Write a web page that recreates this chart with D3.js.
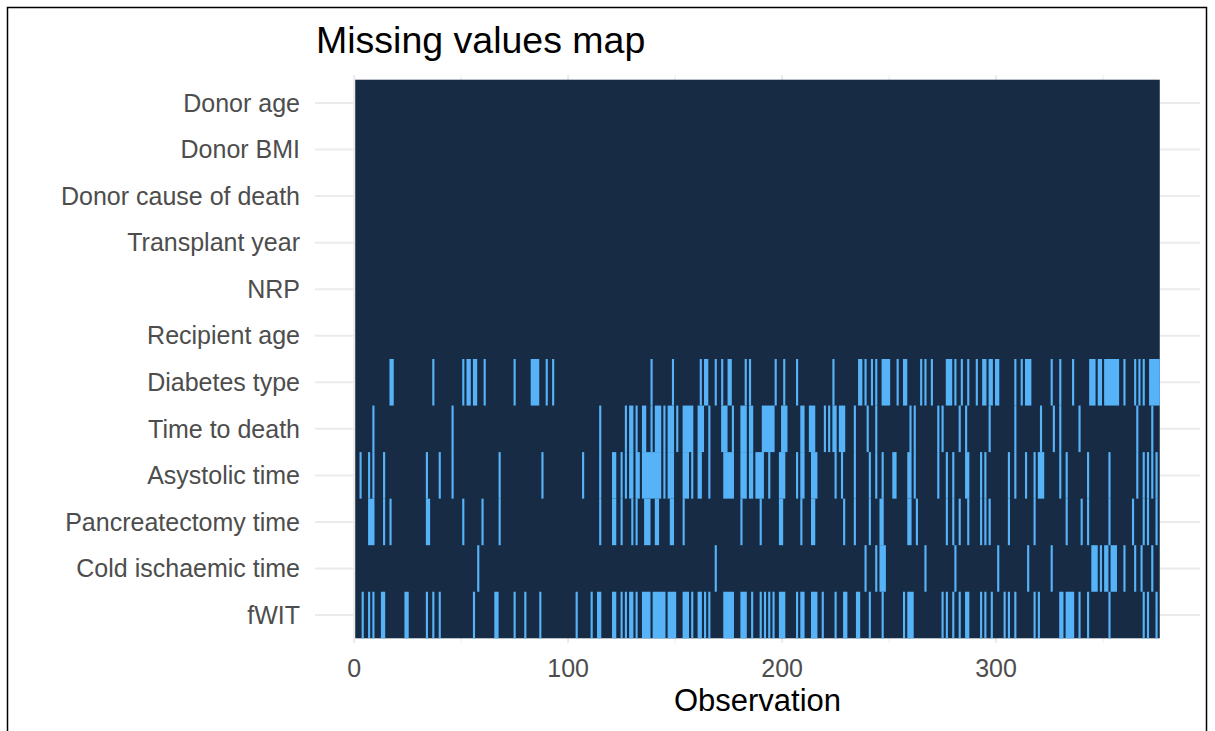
<!DOCTYPE html>
<html>
<head>
<meta charset="utf-8">
<script src="https://cdn.jsdelivr.net/npm/d3@7/dist/d3.min.js"></script>
<style>
  html, body { margin: 0; padding: 0; background: #ffffff; }
  svg { display: block; font-family: "Liberation Sans", Arial, sans-serif; }
</style>
</head>
<body>
<svg id="chart" width="1215" height="731"></svg>
<script>
// Variables shown on the y axis, top to bottom
const variables = [
  "Donor age", "Donor BMI", "Donor cause of death", "Transplant year", "NRP",
  "Recipient age", "Diabetes type", "Time to death", "Asystolic time",
  "Pancreatectomy time", "Cold ischaemic time", "fWIT"
];

// Number of observations (rows of the data set)
const nObs = 376;

// Observation indices with a missing value, per variable
const missDonorAge = [];
const missDonorBMI = [];
const missDonorCause = [];
const missTransplantYear = [];
const missNRP = [];
const missRecipientAge = [];
const missDiabetesType = [17, 18, 37, 51, 53, 54, 56, 57, 61, 75, 83, 84, 85, 86, 90, 93,
  139, 149, 162, 164, 165, 169, 172, 175, 176, 183, 185, 197, 201, 207,
  224, 236, 237, 239, 242, 244, 247, 248, 249, 250,
  254, 257, 258, 265, 267, 270, 277, 278, 279, 281, 284, 287, 291, 294,
  295, 297, 298, 300, 301, 309, 312, 314, 315, 316, 326, 330, 336,
  344, 345, 346, 348, 349, 351, 352, 353, 354, 355, 356, 357, 360, 365, 367, 369,
  372, 373, 374, 375, 376];
const missTimeToDeath = [9, 46, 115, 127, 129, 130, 132, 135, 136, 139, 141, 142, 143, 145,
  147, 148, 149, 151, 154, 155, 156, 157, 158, 161, 162, 163, 166,
  172, 173, 174, 177, 181, 182, 183, 185, 186, 191, 192, 193, 194, 195, 196, 200, 201, 202,
  209, 210, 213, 214, 215, 220, 222, 224, 225, 227, 228, 229, 234, 240, 244,
  260, 262, 273, 275, 283, 286, 297, 309, 321, 327, 330, 339, 366, 373];
const missAsystolic = [3, 7, 9, 14, 34, 40, 46, 68, 88, 107, 115, 121, 122, 125, 127, 129, 130,
  132, 133, 135, 136, 137, 138, 139, 140, 141, 142, 143, 145, 147, 148, 149, 154, 155, 156, 158,
  161, 162, 166, 173, 174, 175, 176, 177, 181, 182, 183, 185, 186, 188, 189, 190, 191, 194,
  199, 200, 201, 207, 209, 210, 214, 215, 216, 225, 228, 234, 241, 244, 247, 252,
  253, 259, 260, 262, 273, 277, 280, 286, 287, 293, 295, 306, 309, 314, 318, 320, 321, 322,
  330, 333, 343, 353, 366, 369, 371, 373, 375];
const missPancreatectomy = [7, 8, 9, 14, 17, 34, 35, 51, 60, 68, 115, 121, 122, 125, 130, 132,
  136, 137, 138, 141, 142, 148, 149, 154, 181, 190, 199, 200, 209, 214, 215, 229, 234, 241,
  246, 247, 259, 260, 263, 277, 280, 283, 287, 293, 295, 297, 306, 318, 333,
  340, 343, 353, 364, 369, 371, 375];
const missColdIschaemic = [58, 169, 239, 244, 246, 247, 248, 267, 281, 301, 315, 326,
  345, 346, 347, 349, 351, 352, 354, 355, 356, 360, 365, 368, 373];
const missFWIT = [4, 7, 9, 13, 14, 24, 25, 34, 37, 40, 56, 66, 67, 75, 80, 87, 104, 111, 114, 115,
  121, 122, 125, 127, 129, 130, 132, 135, 136, 137, 138, 140, 141, 142, 143, 144, 145,
  147, 148, 149, 150, 154, 155, 156, 158, 161, 162, 164, 166,
  173, 174, 175, 176, 177, 181, 182, 183, 186, 190, 192, 194, 196, 199, 200, 201, 207, 209,
  210, 214, 215, 216, 219, 225, 229, 230, 235, 236, 241, 247,
  257, 259, 260, 261, 275, 277, 280, 283, 286, 287, 293, 295, 298, 304, 306, 309, 318, 320,
  330, 331, 333, 334, 335, 336, 339, 343, 353, 369, 371, 375];

const missingByVariable = [
  missDonorAge, missDonorBMI, missDonorCause, missTransplantYear, missNRP, missRecipientAge,
  missDiabetesType, missTimeToDeath, missAsystolic, missPancreatectomy, missColdIschaemic, missFWIT
];

// Axis ticks
const xTicks = [0, 100, 200, 300];
const xMinorTicks = [50, 150, 250, 350];

const colPresent = "#172b44";
const colMissing = "#57b3f7";
const colGrid = "#ebebeb";
const colAxisText = "#4d4d4d";

const svg = d3.select("#chart");

// Frame around the figure
svg.append("rect")
  .attr("x", 7.5).attr("y", 7.5)
  .attr("width", 1199).attr("height", 800)
  .attr("fill", "none").attr("stroke", "#000").attr("stroke-width", 1.5);

// Scales: x is continuous with 5% expansion, y is discrete rows
const lo = 0.5, hi = nObs + 0.5, pad = (hi - lo) * 0.05;
const x = d3.scaleLinear().domain([lo - pad, hi + pad]).range([315, 1200]);
const y = d3.scaleBand().domain(variables).range([79.7, 638.3]).padding(0);
const panelTop = 75, panelBottom = 643;

// Grid lines
const grid = svg.append("g");
grid.selectAll("line.vminor").data(xMinorTicks).join("line")
  .attr("x1", d => x(d)).attr("x2", d => x(d))
  .attr("y1", panelTop).attr("y2", panelBottom)
  .attr("stroke", colGrid).attr("stroke-width", 1);
grid.selectAll("line.vmajor").data(xTicks).join("line")
  .attr("x1", d => x(d)).attr("x2", d => x(d))
  .attr("y1", panelTop).attr("y2", panelBottom)
  .attr("stroke", colGrid).attr("stroke-width", 2);
grid.selectAll("line.h").data(variables).join("line")
  .attr("x1", 315).attr("x2", 1200)
  .attr("y1", d => y(d) + y.bandwidth() / 2).attr("y2", d => y(d) + y.bandwidth() / 2)
  .attr("stroke", colGrid).attr("stroke-width", 2);

// Raster: present values as one dark block, missing cells merged into runs
svg.append("rect")
  .attr("x", x(lo)).attr("y", y.range()[0])
  .attr("width", x(hi) - x(lo)).attr("height", y.range()[1] - y.range()[0])
  .attr("fill", colPresent);

function toRuns(idx) {
  const s = [...idx].sort((a, b) => a - b);
  const runs = [];
  s.forEach(v => {
    const last = runs[runs.length - 1];
    if (last && v <= last[1] + 1) last[1] = Math.max(last[1], v);
    else runs.push([v, v]);
  });
  return runs;
}

const cells = [];
variables.forEach((v, k) => {
  toRuns(missingByVariable[k]).forEach(r => cells.push({ v, a: r[0], b: r[1] }));
});

svg.append("g").selectAll("rect").data(cells).join("rect")
  .attr("x", d => x(d.a - 0.5))
  .attr("width", d => x(d.b + 0.5) - x(d.a - 0.5))
  .attr("y", d => y(d.v))
  .attr("height", y.bandwidth())
  .attr("fill", colMissing);

// Y axis labels
svg.append("g").selectAll("text").data(variables).join("text")
  .attr("x", 300)
  .attr("y", d => y(d) + y.bandwidth() / 2)
  .attr("dy", "0.35em")
  .attr("text-anchor", "end")
  .attr("font-size", 25)
  .attr("fill", colAxisText)
  .text(d => d);

// X axis labels
svg.append("g").selectAll("text").data(xTicks).join("text")
  .attr("x", d => x(d))
  .attr("y", 677)
  .attr("text-anchor", "middle")
  .attr("font-size", 25)
  .attr("fill", colAxisText)
  .text(d => d);

// Axis title and plot title
svg.append("text")
  .attr("x", (x.range()[0] + x.range()[1]) / 2)
  .attr("y", 711)
  .attr("text-anchor", "middle")
  .attr("font-size", 31)
  .attr("fill", "#000")
  .text("Observation");

svg.append("text")
  .attr("x", 316)
  .attr("y", 53)
  .attr("font-size", 37.5)
  .attr("fill", "#000")
  .text("Missing values map");
</script>
</body>
</html>
